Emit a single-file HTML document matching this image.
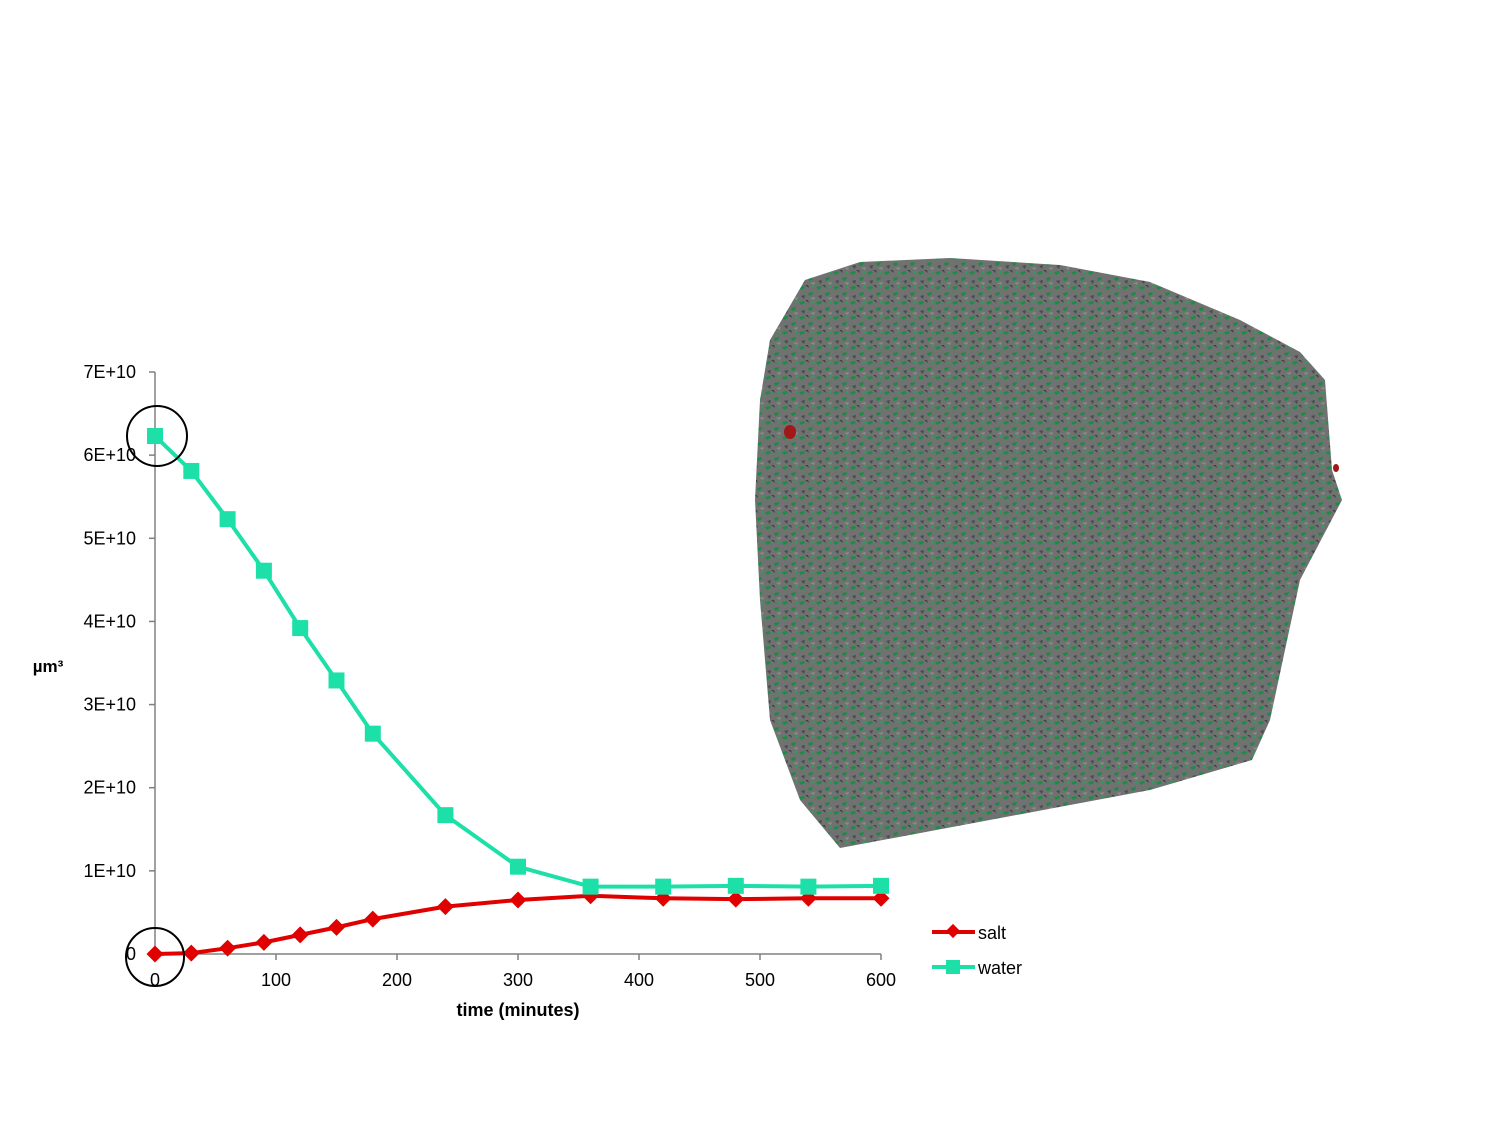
<!DOCTYPE html>
<html><head><meta charset="utf-8"><style>
body{margin:0;background:#fff;}
svg{display:block;font-family:"Liberation Sans",sans-serif;}
</style></head><body>
<svg width="1505" height="1125" viewBox="0 0 1505 1125">
<defs>
<pattern id="grain" width="17" height="15" patternUnits="userSpaceOnUse">
<rect width="17" height="15" fill="#6f7270"/>
<path d="M0 2 L5 1 L6 3 L2 5 Z" fill="#1d8c48"/>
<path d="M9 8 L14 7 L13 10 L10 11 Z" fill="#1a8a44"/>
<path d="M6 0 L9 0 L10 3 Z" fill="#3f4341"/>
<path d="M2 11 L6 10 L5 14 Z" fill="#484c4a"/>
<circle cx="14" cy="2" r="1.2" fill="#22a653"/>
<path d="M11 13 L16 12 L15 15 Z" fill="#888b89"/>
</pattern>
</defs>
<g>
<polygon points="805,280 860,262 950,258 1060,265 1150,282 1240,320 1300,352 1325,380 1332,470 1342,500 1300,580 1270,720 1252,760 1150,790 840,848 800,800 770,720 760,600 755,500 760,400 770,340" fill="url(#grain)"/>
<ellipse cx="790" cy="432" rx="6" ry="7" fill="#a01818"/>
<ellipse cx="1336" cy="468" rx="3" ry="4" fill="#a01818"/>
</g>
<g id="plot"></g>
<circle cx="157" cy="436" r="30" fill="none" stroke="#000" stroke-width="2"/>
<circle cx="155" cy="957" r="29" fill="none" stroke="#000" stroke-width="2"/>
<text x="48" y="672" font-size="17" font-weight="bold" text-anchor="middle">µm³</text>
<text x="518" y="1016" font-size="18" font-weight="bold" text-anchor="middle">time (minutes)</text>
<g>
<g>
<line x1="932" y1="932" x2="975" y2="932" stroke="#e00000" stroke-width="4"/>
<rect x="948" y="926" width="10" height="10" fill="#e00000" transform="rotate(45 953 931)"/>
<text x="978" y="939" font-size="18">salt</text></g>
<g>
<line x1="932" y1="967" x2="975" y2="967" stroke="#1de0a8" stroke-width="4"/>
<rect x="946" y="960" width="14" height="14" fill="#1de0a8"/>
<text x="978" y="974" font-size="18">water</text></g>
</g>
</svg>
<script>
const times=[0,30,60,90,120,150,180,240,300,360,420,480,540,600];
const water=[6.23,5.81,5.23,4.61,3.92,3.29,2.65,1.67,1.05,0.81,0.81,0.82,0.81,0.82];
const salt=[0,0.01,0.07,0.14,0.23,0.32,0.42,0.57,0.65,0.70,0.67,0.66,0.67,0.67];
const yTicks=[0,1,2,3,4,5,6,7];
const yTickLabels=["0","1E+10","2E+10","3E+10","4E+10","5E+10","6E+10","7E+10"];
const xTicks=[0,100,200,300,400,500,600];
const NS="http://www.w3.org/2000/svg";
const g=document.getElementById('plot');
const X=t=>155+t*(881-155)/600;
const Y=v=>954-v*(954-372)/7;
function el(tag,attrs){const e=document.createElementNS(NS,tag);for(const k in attrs)e.setAttribute(k,attrs[k]);g.appendChild(e);return e;}
let a=el('line',{x1:155,y1:372,x2:155,y2:954,stroke:'#808080','stroke-width':1.5});


a=el('line',{x1:155,y1:954,x2:881,y2:954,stroke:'#808080','stroke-width':1.5});


yTicks.forEach((v,i)=>{
 const tk=el('line',{x1:149,y1:Y(v),x2:155,y2:Y(v),stroke:'#808080','stroke-width':1.5});
 
 
 const t=el('text',{x:136,y:Y(v)+6,'font-size':18,'text-anchor':'end'});t.textContent=yTickLabels[i];
 
 
});
xTicks.forEach(v=>{
 const tk=el('line',{x1:X(v),y1:954,x2:X(v),y2:960,stroke:'#808080','stroke-width':1.5});
 
 
 const t=el('text',{x:X(v),y:986,'font-size':18,'text-anchor':'middle'});t.textContent=v;
 
 
});
function series(vals,color,name,square){
 const p=el('polyline',{points:times.map((t,i)=>X(t)+','+Y(vals[i])).join(' '),fill:'none',stroke:color,'stroke-width':4,'stroke-linejoin':'round'});
 
 
 times.forEach((t,i)=>{
  const x=X(t),y=Y(vals[i]);
  let m;
  if(square) m=el('rect',{x:x-8,y:y-8,width:16,height:16,fill:color});
  else m=el('rect',{x:x-6,y:y-6,width:12,height:12,fill:color,transform:'rotate(45 '+x+' '+y+')'});
  
  
 });
}
series(salt,'#e00000','salt',false);
series(water,'#1de0a8','water',true);
</script>
</body></html>
